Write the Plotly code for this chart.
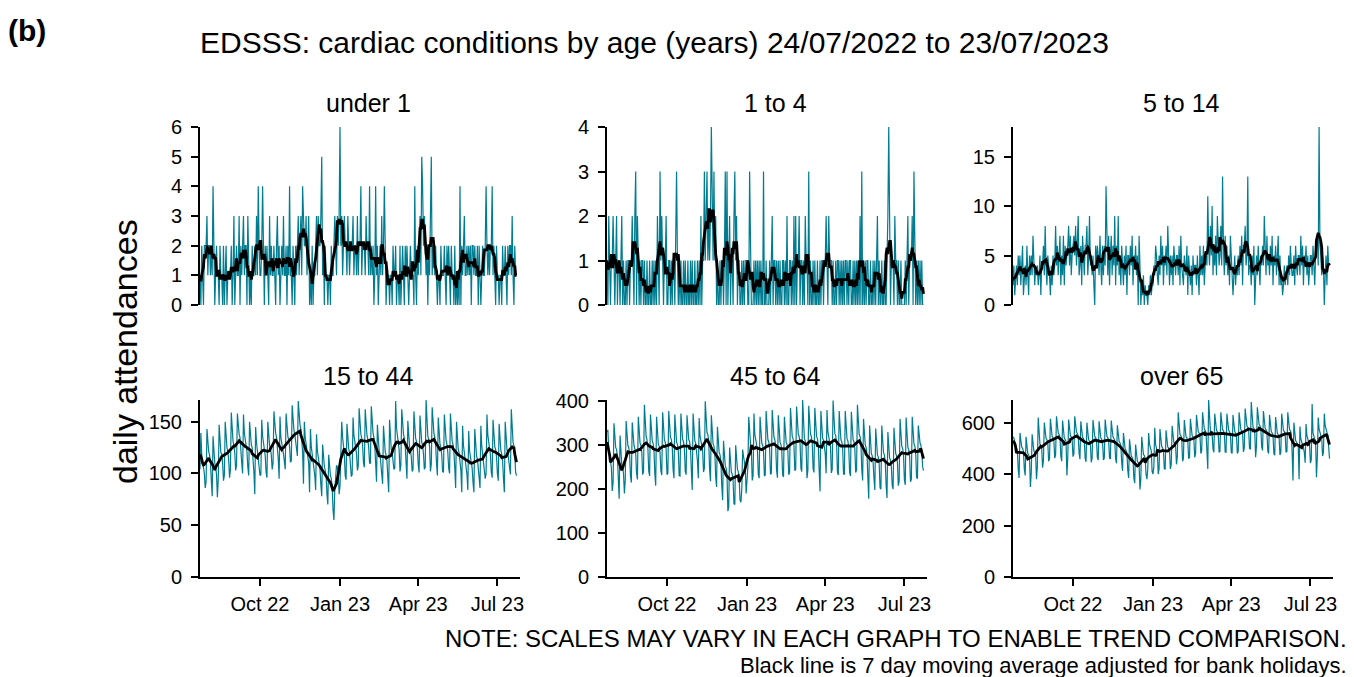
import pandas as pd
import plotly.graph_objects as go

START_DATE = "2022-07-24"
PANEL_TITLES = ["under 1", "1 to 4", "5 to 14", "15 to 44", "45 to 64", "over 65"]
X_TICK_DATES = ["2022-10-01", "2023-01-01", "2023-04-01", "2023-07-01"]
X_TICK_LABELS = ["Oct 22", "Jan 23", "Apr 23", "Jul 23"]
Y_TICK_STEP = [1, 1, 5, 50, 100, 200]

under_1 = [
    1, 0, 2, 1, 0, 2, 2, 2, 3, 1, 2, 2, 1, 2, 1, 4, 2, 0, 1, 2, 1,
    1, 0, 2, 1, 1, 0, 2, 0, 1, 2, 0, 1, 1, 1, 1, 2, 0, 1, 3, 0, 1,
    2, 1, 1, 3, 0, 2, 1, 2, 3, 1, 2, 2, 0, 3, 1, 0, 1, 0, 2, 1, 1,
    2, 1, 3, 1, 4, 2, 1, 1, 2, 4, 1, 0, 2, 1, 2, 1, 0, 3, 1, 2, 1,
    1, 2, 1, 0, 2, 3, 1, 2, 0, 1, 2, 1, 3, 1, 1, 2, 0, 2, 1, 4, 1,
    1, 0, 2, 1, 0, 2, 1, 2, 3, 1, 2, 3, 1, 4, 3, 2, 2, 3, 1, 2, 3,
    0, 1, 0, 2, 0, 1, 1, 2, 3, 1, 3, 2, 2, 3, 5, 1, 2, 0, 2, 1, 1,
    0, 1, 1, 0, 2, 1, 1, 2, 3, 2, 1, 3, 2, 3, 6, 2, 3, 1, 2, 3, 2,
    2, 1, 3, 2, 1, 2, 2, 2, 3, 1, 2, 2, 1, 3, 1, 2, 2, 4, 1, 2, 2,
    2, 1, 3, 2, 2, 1, 4, 1, 2, 1, 2, 0, 1, 4, 1, 2, 0, 1, 2, 1, 3,
    1, 2, 4, 1, 0, 1, 1, 1, 0, 1, 1, 0, 2, 1, 1, 2, 0, 1, 1, 0, 2,
    0, 1, 2, 1, 0, 2, 1, 2, 1, 0, 1, 2, 1, 1, 1, 0, 4, 1, 0, 2, 1,
    2, 3, 1, 5, 4, 2, 3, 2, 1, 2, 0, 2, 1, 3, 5, 1, 2, 2, 1, 2, 1,
    0, 1, 1, 0, 2, 1, 1, 1, 2, 1, 0, 2, 1, 2, 1, 0, 2, 1, 1, 0, 2,
    0, 1, 0, 1, 0, 4, 0, 2, 1, 2, 3, 1, 1, 2, 1, 2, 1, 2, 0, 2, 2,
    1, 2, 1, 1, 2, 0, 2, 1, 0, 1, 2, 1, 1, 2, 4, 2, 1, 2, 1, 2, 2,
    4, 1, 2, 1, 0, 2, 1, 1, 0, 1, 1, 0, 2, 1, 1, 2, 1, 0, 2, 1, 2,
    2, 1, 3, 1, 0, 2, 1, 1,
]

age_1_4 = [
    1, 0, 2, 1, 0, 1, 1, 2, 1, 0, 1, 2, 0, 1, 1, 0, 1, 2, 0, 1, 0,
    0, 1, 0, 1, 1, 0, 1, 1, 2, 1, 0, 2, 3, 0, 2, 1, 0, 1, 0, 1, 1,
    0, 1, 0, 0, 1, 0, 0, 1, 0, 0, 1, 0, 1, 0, 1, 0, 2, 1, 0, 3, 1,
    2, 1, 0, 1, 1, 2, 0, 0, 1, 1, 0, 1, 0, 1, 1, 0, 2, 3, 1, 0, 1,
    0, 1, 0, 0, 1, 0, 1, 0, 0, 1, 0, 0, 1, 0, 1, 0, 0, 1, 0, 0, 1,
    0, 1, 0, 2, 0, 1, 1, 3, 1, 2, 3, 1, 2, 1, 2, 4, 2, 1, 3, 1, 2,
    0, 1, 0, 0, 1, 0, 1, 1, 0, 1, 3, 0, 3, 0, 1, 2, 0, 1, 1, 0, 2,
    3, 1, 2, 0, 1, 1, 0, 0, 1, 0, 1, 0, 1, 1, 1, 0, 0, 3, 1, 0, 0,
    0, 1, 0, 1, 0, 1, 0, 1, 0, 1, 0, 0, 3, 0, 0, 1, 0, 0, 0, 1, 0,
    1, 2, 0, 1, 1, 0, 1, 0, 1, 0, 1, 0, 0, 1, 1, 0, 1, 0, 2, 0, 0,
    1, 1, 0, 1, 0, 2, 0, 2, 0, 1, 1, 2, 0, 1, 1, 0, 1, 0, 2, 1, 1,
    0, 3, 0, 1, 0, 0, 1, 0, 1, 0, 0, 1, 0, 0, 1, 0, 1, 1, 0, 1, 1,
    2, 1, 0, 2, 1, 1, 1, 0, 1, 0, 0, 1, 0, 1, 1, 0, 1, 0, 1, 0, 1,
    0, 1, 1, 0, 1, 0, 1, 1, 0, 0, 1, 0, 1, 0, 1, 0, 1, 0, 2, 0, 3,
    0, 1, 0, 1, 0, 1, 1, 0, 0, 1, 0, 0, 1, 0, 1, 0, 1, 2, 0, 1, 0,
    0, 1, 0, 0, 1, 0, 0, 1, 2, 4, 1, 0, 1, 1, 1, 0, 2, 1, 1, 0, 1,
    0, 0, 1, 0, 0, 0, 0, 1, 0, 1, 2, 0, 1, 1, 1, 2, 0, 3, 1, 0, 1,
    0, 1, 0, 1, 0, 1, 0, 0,
]

age_5_14 = [
    2, 4, 1, 3, 4, 2, 5, 3, 5, 2, 4, 6, 1, 3, 4, 2, 6, 3, 1, 5, 3,
    5, 3, 7, 4, 2, 4, 3, 4, 2, 3, 5, 1, 4, 4, 6, 3, 8, 4, 2, 5, 4,
    3, 1, 4, 2, 5, 3, 4, 8, 4, 6, 3, 5, 7, 2, 5, 3, 7, 2, 6, 4, 5,
    6, 8, 4, 7, 3, 5, 6, 7, 5, 8, 4, 6, 9, 3, 4, 6, 2, 7, 5, 3, 6,
    6, 8, 3, 5, 9, 4, 5, 3, 5, 2, 0, 6, 4, 6, 5, 3, 7, 4, 2, 6, 3,
    6, 4, 12, 5, 3, 7, 2, 5, 7, 3, 6, 4, 9, 2, 6, 4, 9, 3, 5, 2, 6,
    4, 2, 5, 3, 6, 1, 5, 5, 3, 6, 4, 7, 2, 5, 4, 6, 3, 5, 0, 7, 4,
    0, 2, 1, 3, 0, 2, 1, 1, 0, 2, 1, 3, 1, 2, 2, 4, 3, 6, 5, 3, 2,
    5, 3, 7, 4, 6, 2, 5, 4, 6, 3, 8, 5, 2, 5, 3, 5, 2, 6, 4, 3, 5,
    5, 3, 6, 2, 7, 4, 3, 2, 5, 4, 3, 6, 1, 5, 3, 2, 4, 1, 5, 3, 4,
    4, 2, 5, 3, 1, 6, 3, 5, 3, 6, 2, 4, 5, 4, 11, 6, 4, 8, 5, 10, 3,
    6, 4, 7, 3, 9, 5, 4, 5, 8, 4, 13, 6, 3, 7, 4, 6, 3, 5, 2, 7, 4,
    3, 1, 4, 5, 2, 4, 3, 5, 3, 6, 4, 7, 2, 6, 6, 8, 4, 5, 13, 3, 4,
    4, 2, 5, 3, 6, 0, 4, 5, 3, 6, 4, 2, 5, 4, 6, 4, 9, 5, 3, 7, 4,
    5, 3, 6, 4, 7, 2, 5, 4, 6, 3, 5, 7, 2, 5, 2, 3, 1, 2, 4, 2, 3,
    4, 2, 5, 3, 6, 4, 3, 3, 5, 2, 6, 4, 3, 5, 5, 3, 7, 4, 6, 2, 5,
    4, 6, 3, 5, 2, 4, 5, 5, 3, 6, 4, 2, 5, 6, 7, 4, 18, 6, 5, 3, 5,
    4, 0, 3, 5, 2, 6, 4, 4,
]

age_15_44 = [
    104, 139, 118, 113, 109, 100, 86, 92, 143, 127, 121, 118, 110, 94,
    78, 136, 118, 110, 106, 99, 77, 95, 147, 128, 120, 119, 110, 93,
    98, 150, 131, 125, 121, 113, 96, 104, 159, 138, 131, 127, 120, 103,
    108, 158, 146, 138, 135, 126, 110, 100, 157, 139, 131, 128, 121, 106,
    98, 150, 134, 128, 125, 116, 101, 80, 145, 130, 122, 118, 112, 98,
    99, 152, 136, 128, 125, 117, 101, 96, 150, 135, 127, 124, 118, 104,
    110, 160, 146, 139, 135, 127, 114, 95, 155, 135, 127, 124, 119, 106,
    104, 158, 143, 136, 132, 126, 111, 112, 166, 150, 142, 138, 130, 121,
    117, 170, 154, 147, 143, 135, 121, 90, 150, 135, 128, 124, 117, 110,
    82, 143, 126, 119, 115, 108, 98, 84, 138, 122, 115, 111, 104, 89,
    78, 128, 113, 107, 103, 98, 80, 70, 118, 104, 98, 95, 87, 65,
    55, 84, 98, 108, 106, 101, 80, 88, 120, 150, 135, 126, 118, 98,
    94, 148, 131, 124, 120, 112, 97, 99, 154, 137, 130, 126, 119, 103,
    107, 163, 145, 138, 134, 127, 110, 106, 162, 144, 137, 133, 125, 110,
    110, 165, 145, 139, 135, 127, 110, 92, 147, 130, 122, 119, 111, 98,
    90, 146, 129, 121, 118, 112, 96, 82, 152, 132, 123, 120, 113, 104,
    105, 170, 144, 135, 131, 123, 102, 108, 162, 145, 138, 134, 127, 110,
    95, 151, 134, 126, 123, 116, 102, 104, 160, 142, 134, 131, 124, 108,
    101, 156, 138, 130, 127, 119, 104, 106, 171, 143, 136, 133, 126, 102,
    109, 164, 146, 139, 135, 128, 110, 98, 154, 136, 128, 125, 118, 102,
    101, 157, 139, 132, 128, 120, 105, 100, 158, 139, 131, 128, 121, 105,
    86, 150, 131, 123, 120, 113, 103, 82, 146, 127, 119, 116, 109, 99,
    84, 141, 122, 115, 112, 105, 91, 82, 143, 125, 117, 114, 107, 96,
    86, 146, 127, 119, 116, 109, 95, 100, 157, 137, 129, 126, 118, 101,
    96, 152, 134, 126, 123, 116, 100, 93, 148, 130, 122, 119, 112, 95,
    82, 150, 132, 123, 120, 113, 106, 99, 162, 138, 130, 127, 118, 101,
    98,
]

age_45_64 = [
    330, 335, 290, 275, 268, 250, 196, 215, 350, 310, 295, 290, 275, 225,
    178, 322, 270, 255, 250, 235, 190, 220, 355, 315, 300, 295, 280, 230,
    215, 352, 318, 300, 292, 282, 236, 222, 365, 320, 305, 300, 285, 233,
    240, 392, 335, 320, 312, 295, 241, 230, 370, 325, 310, 305, 290, 235,
    208, 365, 318, 303, 298, 283, 241, 232, 375, 328, 312, 307, 292, 233,
    236, 378, 333, 318, 313, 298, 245, 225, 370, 322, 307, 302, 287, 231,
    230, 372, 330, 313, 308, 293, 240, 233, 368, 328, 313, 308, 293, 243,
    198, 372, 326, 310, 305, 290, 264, 225, 362, 322, 307, 302, 287, 239,
    248, 400, 344, 329, 324, 309, 244, 218, 368, 318, 303, 298, 283, 228,
    205, 342, 298, 283, 278, 263, 207, 175, 310, 268, 253, 248, 233, 150,
    160, 295, 254, 239, 234, 219, 167, 165, 300, 260, 245, 240, 225, 175,
    170, 200, 290, 275, 265, 250, 190, 215, 250, 365, 320, 305, 290, 220,
    230, 372, 325, 310, 305, 290, 233, 225, 365, 320, 305, 300, 285, 230,
    232, 378, 328, 313, 308, 293, 234, 236, 380, 333, 318, 313, 298, 243,
    226, 368, 322, 307, 302, 287, 232, 228, 365, 322, 307, 302, 287, 233,
    238, 385, 335, 320, 315, 300, 242, 245, 388, 340, 325, 320, 305, 247,
    240, 403, 333, 315, 310, 295, 225, 243, 390, 340, 325, 320, 305, 247,
    238, 385, 335, 320, 315, 300, 242, 195, 378, 331, 316, 311, 296, 280,
    236, 380, 331, 316, 311, 296, 237, 245, 402, 342, 327, 322, 307, 239,
    232, 378, 328, 313, 308, 293, 234, 234, 378, 330, 315, 310, 295, 238,
    230, 376, 328, 313, 308, 293, 238, 244, 392, 340, 325, 320, 305, 244,
    220, 360, 315, 300, 295, 280, 225, 178, 345, 296, 281, 276, 261, 225,
    198, 338, 293, 278, 273, 258, 203, 200, 345, 298, 283, 278, 263, 209,
    180, 330, 286, 271, 266, 251, 208, 200, 340, 296, 281, 276, 261, 208,
    218, 360, 313, 298, 293, 278, 221, 210, 363, 310, 295, 290, 275, 217,
    222, 365, 318, 303, 298, 283, 227, 224, 345, 320, 305, 300, 285, 251,
    242,
]

age_over_65 = [
    545, 540, 525, 510, 505, 492, 420, 385, 560, 525, 505, 500, 488, 420,
    395, 545, 500, 480, 475, 465, 350, 405, 555, 510, 490, 485, 475, 380,
    430, 620, 535, 515, 510, 500, 425, 453, 600, 558, 538, 533, 523, 450,
    460, 615, 567, 547, 542, 532, 462, 475, 625, 580, 560, 555, 545, 470,
    450, 608, 560, 540, 535, 525, 395, 465, 612, 570, 550, 545, 535, 468,
    478, 625, 583, 563, 558, 548, 481, 458, 605, 563, 543, 538, 528, 461,
    448, 600, 553, 533, 528, 518, 446, 462, 610, 567, 547, 542, 532, 464,
    455, 605, 560, 540, 535, 525, 455, 462, 612, 567, 547, 542, 532, 462,
    459, 608, 564, 544, 539, 529, 460, 442, 590, 547, 527, 522, 512, 444,
    412, 560, 517, 497, 492, 482, 414, 385, 535, 490, 470, 465, 455, 385,
    365, 515, 470, 450, 445, 435, 340, 380, 545, 497, 477, 472, 462, 400,
    380, 420, 560, 515, 500, 490, 410, 400, 430, 580, 515, 495, 485, 400,
    420, 575, 527, 507, 502, 492, 421, 420, 570, 525, 505, 500, 490, 420,
    438, 588, 543, 523, 518, 508, 438, 470, 640, 575, 555, 550, 540, 450,
    460, 610, 565, 545, 540, 530, 460, 465, 615, 570, 550, 545, 535, 465,
    480, 630, 585, 565, 560, 550, 480, 490, 640, 595, 575, 570, 560, 490,
    420, 688, 590, 570, 565, 555, 497, 485, 635, 590, 570, 565, 555, 485,
    488, 640, 593, 573, 568, 558, 486, 485, 635, 590, 570, 565, 555, 485,
    480, 630, 585, 565, 560, 550, 480, 488, 640, 593, 573, 568, 558, 486,
    502, 655, 607, 587, 582, 572, 499, 498, 680, 603, 583, 578, 568, 466,
    508, 660, 613, 593, 588, 578, 506, 492, 645, 597, 577, 572, 562, 489,
    480, 630, 585, 565, 560, 550, 480, 473, 622, 578, 558, 553, 543, 474,
    485, 635, 590, 570, 565, 555, 485, 488, 640, 593, 573, 568, 558, 486,
    375, 600, 550, 530, 525, 515, 510, 380, 585, 538, 518, 513, 503, 484,
    444, 595, 549, 529, 524, 514, 443, 455, 672, 560, 540, 535, 525, 388,
    470, 620, 575, 555, 550, 540, 470, 483, 635, 588, 568, 563, 553, 481,
    460,
]

SERIES = [under_1, age_1_4, age_5_14, age_15_44, age_45_64, age_over_65]

# ---------------- layout geometry (target pixels on screen) ----------------
W, H = 1354, 677
OFF = 8  # the page body margin shifts the figure by this many pixels
COL_PX = [(200, 520), (607, 927), (1013, 1333)]
ROW_PX = [(127, 305), (400, 577)]
TEAL = "#007C91"
FONT = "Liberation Sans, Arial, sans-serif"
X_RANGE = ["2022-07-24", "2023-07-27"]


def px(x):
    return (x - OFF) / W


def py(y):
    return 1 - (y - OFF) / H


fig = go.Figure()
layout = dict(
    width=W, height=H,
    margin=dict(l=0, r=0, t=0, b=0, autoexpand=False),
    paper_bgcolor="white", plot_bgcolor="white",
    showlegend=False,
    font=dict(family=FONT, color="black"),
)

annotations = []
for i, (title, vals) in enumerate(zip(PANEL_TITLES, SERIES)):
    r, c = divmod(i, 3)
    n = i + 1
    xs = pd.date_range(START_DATE, periods=len(vals), freq="D")
    s = pd.Series(vals, dtype=float)
    ma = s.rolling(7, center=True, min_periods=4).mean()
    xa, ya = f"x{n}", f"y{n}"
    fig.add_trace(go.Scatter(x=xs, y=vals, mode="lines",
                             line=dict(color=TEAL, width=1.2),
                             xaxis=xa, yaxis=ya, hoverinfo="skip"))
    fig.add_trace(go.Scatter(x=xs, y=ma, mode="lines",
                             line=dict(color="black", width=2.8),
                             xaxis=xa, yaxis=ya, hoverinfo="skip"))
    x0, x1 = COL_PX[c]
    y0, y1 = ROW_PX[r]
    bottom = (r == 1)
    layout[f"xaxis{n}" if n > 1 else "xaxis"] = dict(
        domain=[px(x0), px(x1)], anchor=ya, range=X_RANGE, type="date",
        showgrid=False, zeroline=False, automargin=False,
        showline=bottom, linecolor="black", linewidth=2,
        ticks="outside" if bottom else "", ticklen=7, tickwidth=1.6, tickcolor="black",
        tickvals=X_TICK_DATES, ticktext=X_TICK_LABELS,
        showticklabels=bottom, ticklabelstandoff=1,
        tickfont=dict(size=20, color="black", family=FONT),
    )
    layout[f"yaxis{n}" if n > 1 else "yaxis"] = dict(
        domain=[py(y1), py(y0)], anchor=xa, range=[0, max(vals)],
        showgrid=False, zeroline=False, automargin=False,
        showline=True, linecolor="black", linewidth=2,
        ticks="outside", ticklen=7, tickwidth=1.6, tickcolor="black",
        tick0=0, dtick=Y_TICK_STEP[i], ticklabelstandoff=5,
        tickfont=dict(size=20, color="black", family=FONT),
    )
    annotations.append(dict(
        text=title, x=px((x0 + x1) / 2 + 8), y=py(103 if r == 0 else 376),
        xref="paper", yref="paper", xanchor="center", yanchor="middle",
        showarrow=False, font=dict(size=25, color="black", family=FONT),
    ))

annotations += [
    dict(text="<b>(b)</b>", x=px(6), y=py(30), xref="paper", yref="paper",
         xanchor="left", yanchor="middle", showarrow=False,
         font=dict(size=30, color="black", family=FONT)),
    dict(text="EDSSS: cardiac conditions by age (years) 24/07/2022 to 23/07/2023",
         x=px(198), y=py(43), xref="paper", yref="paper",
         xanchor="left", yanchor="middle", showarrow=False,
         font=dict(size=30, color="black", family=FONT)),
    dict(text="daily attendances", x=px(125), y=py(351), xref="paper", yref="paper",
         xanchor="center", yanchor="middle", textangle=-90, showarrow=False,
         font=dict(size=34, color="black", family=FONT)),
    dict(text="NOTE: SCALES MAY VARY IN EACH GRAPH TO ENABLE TREND COMPARISON.",
         x=px(1349), y=py(638), xref="paper", yref="paper",
         xanchor="right", yanchor="middle", showarrow=False,
         font=dict(size=24, color="black", family=FONT)),
    dict(text="Black line is 7 day moving average adjusted for bank holidays.",
         x=px(1349), y=py(665), xref="paper", yref="paper",
         xanchor="right", yanchor="middle", showarrow=False,
         font=dict(size=22, color="black", family=FONT)),
]
layout["annotations"] = annotations
fig.update_layout(**layout)
fig.write_html("out.html")
